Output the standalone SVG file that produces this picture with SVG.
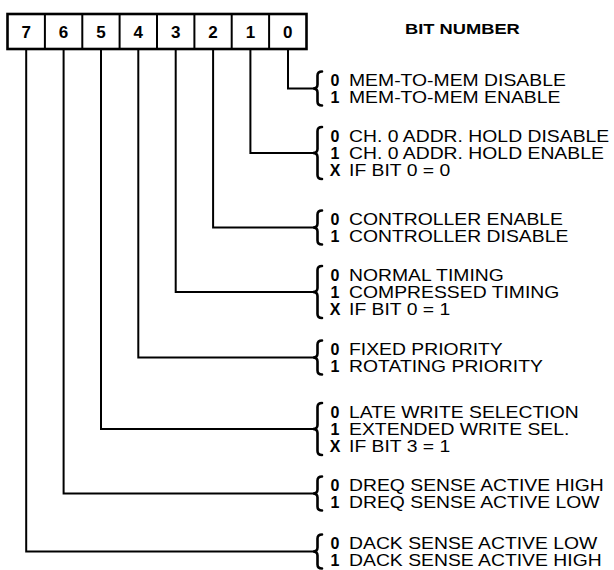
<svg xmlns="http://www.w3.org/2000/svg" width="614" height="570" viewBox="0 0 614 570">
<style>
.box{fill:#fff;stroke:#000;stroke-width:2.6}
.div{stroke:#000;stroke-width:2}
.bn{font-family:"Liberation Sans",Arial,sans-serif;font-weight:bold;font-size:17px;text-anchor:middle;fill:#000}
.hd{font-family:"Liberation Sans",Arial,sans-serif;font-weight:bold;font-size:15px;fill:#000}
.v{font-family:"Liberation Sans",Arial,sans-serif;font-weight:bold;font-size:16px;text-anchor:middle;fill:#000}
.t{font-family:"Liberation Sans",Arial,sans-serif;font-size:16px;fill:#000}
.c{fill:none;stroke:#000;stroke-width:2}
.br{fill:none;stroke:#000;stroke-width:2.6;stroke-linecap:round}
</style>
<defs>
<path id="b2" class="br" d="M9,-17 Q4.5,-17 4.5,-13 L4.5,-4 Q4.5,0 0,0 Q4.5,0 4.5,4 L4.5,13 Q4.5,17 9,17"/>
<path id="b3" class="br" d="M9,-26 Q4.5,-26 4.5,-22 L4.5,-4 Q4.5,0 0,0 Q4.5,0 4.5,4 L4.5,22 Q4.5,26 9,26"/>
</defs>
<g id="register">
<rect class="box" x="7.5" y="14" width="299" height="35"/>
<line class="div" x1="44.9" y1="14" x2="44.9" y2="49"/>
<line class="div" x1="82.3" y1="14" x2="82.3" y2="49"/>
<line class="div" x1="119.6" y1="14" x2="119.6" y2="49"/>
<line class="div" x1="157" y1="14" x2="157" y2="49"/>
<line class="div" x1="194.4" y1="14" x2="194.4" y2="49"/>
<line class="div" x1="231.7" y1="14" x2="231.7" y2="49"/>
<line class="div" x1="269.1" y1="14" x2="269.1" y2="49"/>
<text class="bn" x="26.2" y="37.5">7</text>
<text class="bn" x="63.6" y="37.5">6</text>
<text class="bn" x="101" y="37.5">5</text>
<text class="bn" x="138.3" y="37.5">4</text>
<text class="bn" x="175.7" y="37.5">3</text>
<text class="bn" x="213.1" y="37.5">2</text>
<text class="bn" x="250.4" y="37.5">1</text>
<text class="bn" x="287.8" y="37.5">0</text>
</g>
<g id="title"><text class="hd" transform="translate(405,34) scale(1.22,1)">BIT NUMBER</text></g>
<g id="connectors">
<path class="c" d="M288,49 V88.5 H313"/>
<path class="c" d="M250.4,49 V153 H313"/>
<path class="c" d="M213.1,49 V227.5 H313"/>
<path class="c" d="M175.7,49 V292 H313"/>
<path class="c" d="M138.3,49 V357.5 H313"/>
<path class="c" d="M101,49 V429 H313"/>
<path class="c" d="M63.6,49 V493.5 H313"/>
<path class="c" d="M26.2,49 V551.5 H313"/>
</g>
<g id="bit0">
<use href="#b2" x="313" y="88.5"/>
<text class="v" x="335" y="86">0</text><text class="t" transform="translate(349,86) scale(1.21,1)">MEM-TO-MEM DISABLE</text>
<text class="v" x="335" y="103">1</text><text class="t" transform="translate(349,103) scale(1.21,1)">MEM-TO-MEM ENABLE</text>
</g>
<g id="bit1">
<use href="#b3" x="313" y="153"/>
<text class="v" x="335" y="142">0</text><text class="t" transform="translate(349,142) scale(1.21,1)">CH. 0 ADDR. HOLD DISABLE</text>
<text class="v" x="335" y="159">1</text><text class="t" transform="translate(349,159) scale(1.21,1)">CH. 0 ADDR. HOLD ENABLE</text>
<text class="v" x="335" y="176">X</text><text class="t" transform="translate(349,176) scale(1.21,1)">IF BIT 0 = 0</text>
</g>
<g id="bit2">
<use href="#b2" x="313" y="227.5"/>
<text class="v" x="335" y="225">0</text><text class="t" transform="translate(349,225) scale(1.21,1)">CONTROLLER ENABLE</text>
<text class="v" x="335" y="242">1</text><text class="t" transform="translate(349,242) scale(1.21,1)">CONTROLLER DISABLE</text>
</g>
<g id="bit3">
<use href="#b3" x="313" y="292"/>
<text class="v" x="335" y="281">0</text><text class="t" transform="translate(349,281) scale(1.21,1)">NORMAL TIMING</text>
<text class="v" x="335" y="298">1</text><text class="t" transform="translate(349,298) scale(1.21,1)">COMPRESSED TIMING</text>
<text class="v" x="335" y="315">X</text><text class="t" transform="translate(349,315) scale(1.21,1)">IF BIT 0 = 1</text>
</g>
<g id="bit4">
<use href="#b2" x="313" y="357.5"/>
<text class="v" x="335" y="355">0</text><text class="t" transform="translate(349,355) scale(1.21,1)">FIXED PRIORITY</text>
<text class="v" x="335" y="372">1</text><text class="t" transform="translate(349,372) scale(1.21,1)">ROTATING PRIORITY</text>
</g>
<g id="bit5">
<use href="#b3" x="313" y="429"/>
<text class="v" x="335" y="418">0</text><text class="t" transform="translate(349,418) scale(1.21,1)">LATE WRITE SELECTION</text>
<text class="v" x="335" y="435">1</text><text class="t" transform="translate(349,435) scale(1.21,1)">EXTENDED WRITE SEL.</text>
<text class="v" x="335" y="452">X</text><text class="t" transform="translate(349,452) scale(1.21,1)">IF BIT 3 = 1</text>
</g>
<g id="bit6">
<use href="#b2" x="313" y="493.5"/>
<text class="v" x="335" y="491">0</text><text class="t" transform="translate(349,491) scale(1.21,1)">DREQ SENSE ACTIVE HIGH</text>
<text class="v" x="335" y="508">1</text><text class="t" transform="translate(349,508) scale(1.21,1)">DREQ SENSE ACTIVE LOW</text>
</g>
<g id="bit7">
<use href="#b2" x="313" y="551.5"/>
<text class="v" x="335" y="549">0</text><text class="t" transform="translate(349,549) scale(1.21,1)">DACK SENSE ACTIVE LOW</text>
<text class="v" x="335" y="566">1</text><text class="t" transform="translate(349,566) scale(1.21,1)">DACK SENSE ACTIVE HIGH</text>
</g>
</svg>
